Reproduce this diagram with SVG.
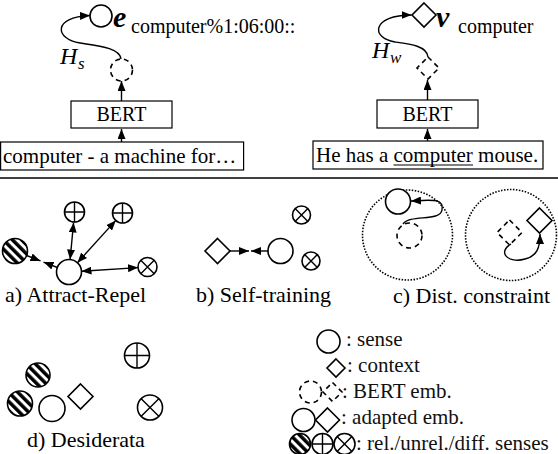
<svg xmlns="http://www.w3.org/2000/svg" width="558" height="454" viewBox="0 0 558 454">
<style>
text{font-family:"Liberation Serif","Times New Roman",serif;fill:#000}
.s{fill:#fff;stroke:#000;stroke-width:1.6}
.d{fill:none;stroke:#000;stroke-width:1.6;stroke-dasharray:5 4}
.dot{fill:none;stroke:#000;stroke-width:1.6;stroke-dasharray:1.5 1.5}
.ln{fill:none;stroke:#000;stroke-width:1.4}
.a{fill:none;stroke:#000;stroke-width:1.4;marker-end:url(#ah)}
.aa{fill:none;stroke:#000;stroke-width:1.4;marker-end:url(#ah);marker-start:url(#ah)}
.box{fill:#fff;stroke:#000;stroke-width:1.2}
.h{fill:url(#hatch);stroke:#000;stroke-width:1.6}
.lbl{font-size:22px}
.in{font-size:21px}
.lg{font-size:21px;fill:#111}
</style>
<defs>
<marker id="ah" markerWidth="10" markerHeight="8" refX="10" refY="4" orient="auto-start-reverse" markerUnits="userSpaceOnUse">
<path d="M0,0 L10,4 L0,8 z" fill="#000"/>
</marker>
<pattern id="hatch" patternUnits="userSpaceOnUse" width="6.5" height="6.5" patternTransform="rotate(-45)">
<rect width="6.5" height="6.5" fill="#fff"/>
<rect width="3.5" height="6.5" fill="#000"/>
</pattern>
<g id="plus"><circle r="10" class="s"/><path d="M-10,0 H10 M0,-10 V10" class="ln" stroke-width="1.6"/></g>
</defs>

<!-- top left -->
<g id="sense-top">
<circle cx="101" cy="16" r="11" class="s"/>
<text x="113" y="27" font-size="30" font-weight="bold" font-style="italic">e</text>
<text x="131" y="33" font-size="20">computer%1:06:00::</text>
</g>
<g id="bert-emb-left"><circle cx="121.5" cy="70" r="11" class="d"/></g>
<g id="bert-left">
<rect x="71" y="101" width="101" height="27" class="box"/>
<text x="121.5" y="121" font-size="20" text-anchor="middle">BERT</text>
</g>
<g id="input-left">
<rect x="0.6" y="142" width="243" height="28" class="box"/>
<text x="3" y="163" class="in">computer - a machine for…</text>
</g>
<text x="60" y="64" font-size="24" font-style="italic">H</text>
<text x="78" y="69" font-size="17" font-style="italic">s</text>

<!-- top right -->
<g id="context-top">
<path d="M424,3 L436,15 L424,27 L412,15 z" class="s"/>
<text x="436" y="27" font-size="30" font-weight="bold" font-style="italic">v</text>
<text x="458" y="33" font-size="20">computer</text>
</g>
<g id="bert-emb-right"><path d="M428,57 L439,68 L428,79 L417,68 z" class="d"/></g>
<g id="bert-right">
<rect x="377" y="100" width="101" height="28" class="box"/>
<text x="427.5" y="121" font-size="20" text-anchor="middle">BERT</text>
</g>
<g id="input-right">
<rect x="313" y="141" width="230" height="28" class="box"/>
<text x="316" y="162" class="in">He has a computer mouse.</text>
<line x1="393.5" y1="165" x2="473" y2="165" stroke="#000" stroke-width="1.2"/>
</g>
<text x="372" y="58" font-size="24" font-style="italic">H</text>
<text x="390" y="63" font-size="17" font-style="italic">w</text>

<line x1="0" y1="178" x2="558" y2="178" stroke="#000" stroke-width="1.5"/>

<!-- a) -->
<g id="a-center"><circle cx="69" cy="272" r="12.5" class="s"/></g>
<g id="a-rel"><circle cx="15" cy="251" r="12.5" class="h"/></g>
<g id="a-unrel1"><use href="#plus" x="74.5" y="212"/></g>
<g id="a-unrel2"><use href="#plus" x="122.5" y="213"/></g>
<g id="a-diff"><circle cx="147.5" cy="267" r="9.5" class="s"/><path d="M140.8,260.3 L154.2,273.7 M154.2,260.3 L140.8,273.7" class="ln" stroke-width="1.6"/></g>
<text x="5" y="302" class="lbl">a) Attract-Repel</text>

<!-- b) -->
<g id="b-context"><path d="M217.5,238.5 L230,251 L217.5,263.5 L205,251 z" class="s"/></g>
<g id="b-sense"><circle cx="280.5" cy="251" r="12.5" class="s"/></g>
<g id="b-diff1"><circle cx="301.5" cy="215" r="9" class="s"/><path d="M295.1,208.6 L307.9,221.4 M307.9,208.6 L295.1,221.4" class="ln" stroke-width="1.6"/></g>
<g id="b-diff2"><circle cx="311" cy="261" r="9" class="s"/><path d="M304.6,254.6 L317.4,267.4 M317.4,254.6 L304.6,267.4" class="ln" stroke-width="1.6"/></g>
<text x="196" y="302" class="lbl">b) Self-training</text>

<!-- c) -->
<g id="c-region1"><circle cx="407.5" cy="235" r="45" class="dot"/></g>
<g id="c-region2"><circle cx="511" cy="235" r="45.5" class="dot"/></g>
<g id="c-sense"><circle cx="398" cy="201.5" r="12.5" class="s"/></g>
<g id="c-bert-sense"><circle cx="409.5" cy="235.5" r="12.5" class="d"/></g>
<g id="c-context"><path d="M539.5,208 L552,220.5 L539.5,233 L527,220.5 z" class="s"/></g>
<g id="c-bert-context"><path d="M509.5,220 L522,232.5 L509.5,245 L497,232.5 z" class="d"/></g>
<text x="393" y="303" class="lbl">c) Dist. constraint</text>

<!-- d) -->
<g id="d-rel1"><circle cx="38" cy="375" r="12" class="h"/></g>
<g id="d-rel2"><circle cx="20" cy="403.5" r="12.5" class="h"/></g>
<g id="d-sense"><circle cx="52" cy="408.5" r="13" class="s"/></g>
<g id="d-context"><path d="M80.5,384 L93,396.5 L80.5,409 L68,396.5 z" class="s"/></g>
<g id="d-unrel"><circle cx="137" cy="355.5" r="12.5" class="s"/><path d="M124.5,355.5 H149.5 M137,343 V368" class="ln" stroke-width="1.6"/></g>
<g id="d-diff"><circle cx="150" cy="407.5" r="12.5" class="s"/><path d="M141.2,398.7 L158.8,416.3 M158.8,398.7 L141.2,416.3" class="ln" stroke-width="1.6"/></g>
<text x="27" y="447" class="lbl">d) Desiderata</text>

<!-- legend -->
<g id="legend">
<circle cx="328.5" cy="341.5" r="11.5" class="s"/>
<text x="346" y="346" class="lg">: sense</text>
<path d="M336,359 L345,368 L336,377 L327,368 z" class="s"/>
<text x="347" y="372" class="lg">: context</text>
<circle cx="310.5" cy="392" r="11" class="d"/>
<path d="M332.5,382.5 L342,392 L332.5,401.5 L323,392 z" class="d"/>
<text x="342" y="398" class="lg">: BERT emb.</text>
<circle cx="303.5" cy="420" r="11.5" class="s"/>
<path d="M327.5,408 L339.5,420 L327.5,432 L315.5,420 z" class="s"/>
<text x="341" y="424" class="lg">: adapted emb.</text>
<circle cx="300" cy="444" r="10.5" class="h"/>
<circle cx="322.5" cy="444" r="10.5" class="s"/><path d="M312,444 H333 M322.5,433.5 V454.5" class="ln" stroke-width="1.6"/>
<circle cx="344.5" cy="444" r="10.5" class="s"/><path d="M337.1,436.6 L351.9,451.4 M351.9,436.6 L337.1,451.4" class="ln" stroke-width="1.6"/>
<text x="356" y="450" class="lg">: rel./unrel./diff. senses</text>
</g>

<!-- connectors -->
<g id="connectors">
<line x1="121.5" y1="142" x2="121.5" y2="129" class="a"/>
<line x1="121.5" y1="101" x2="121.5" y2="81" class="a"/>
<path d="M121,59 C120,48 100,46 80,43 C55,39 52,17 90,15.5" class="a"/>
<line x1="427.5" y1="141" x2="427.5" y2="129" class="a"/>
<line x1="427.5" y1="100" x2="427.5" y2="80" class="a"/>
<path d="M428,57 C427,46 410,44 395,42 C370,38 372,15 411.5,15" class="a"/>
<line x1="26.6" y1="255.5" x2="40.5" y2="260.9" class="a"/>
<line x1="57.4" y1="267.5" x2="43.5" y2="262.1" class="a"/>
<line x1="73.6" y1="222.5" x2="70.1" y2="259.5" class="aa"/>
<line x1="77.4" y1="262.7" x2="115.8" y2="220.4" class="aa"/>
<line x1="81.5" y1="271.2" x2="138" y2="267.6" class="aa"/>
<line x1="230" y1="251" x2="249" y2="251" class="a"/>
<line x1="268" y1="251" x2="251" y2="251" class="a"/>
<path d="M403,224 C410,214 440,222 442,210 C444,198 432,200 411,201" class="a"/>
<path d="M511,244 C497,252 508,264 525,259 C537,256 540,248 540,234" class="a"/>
</g>
</svg>
